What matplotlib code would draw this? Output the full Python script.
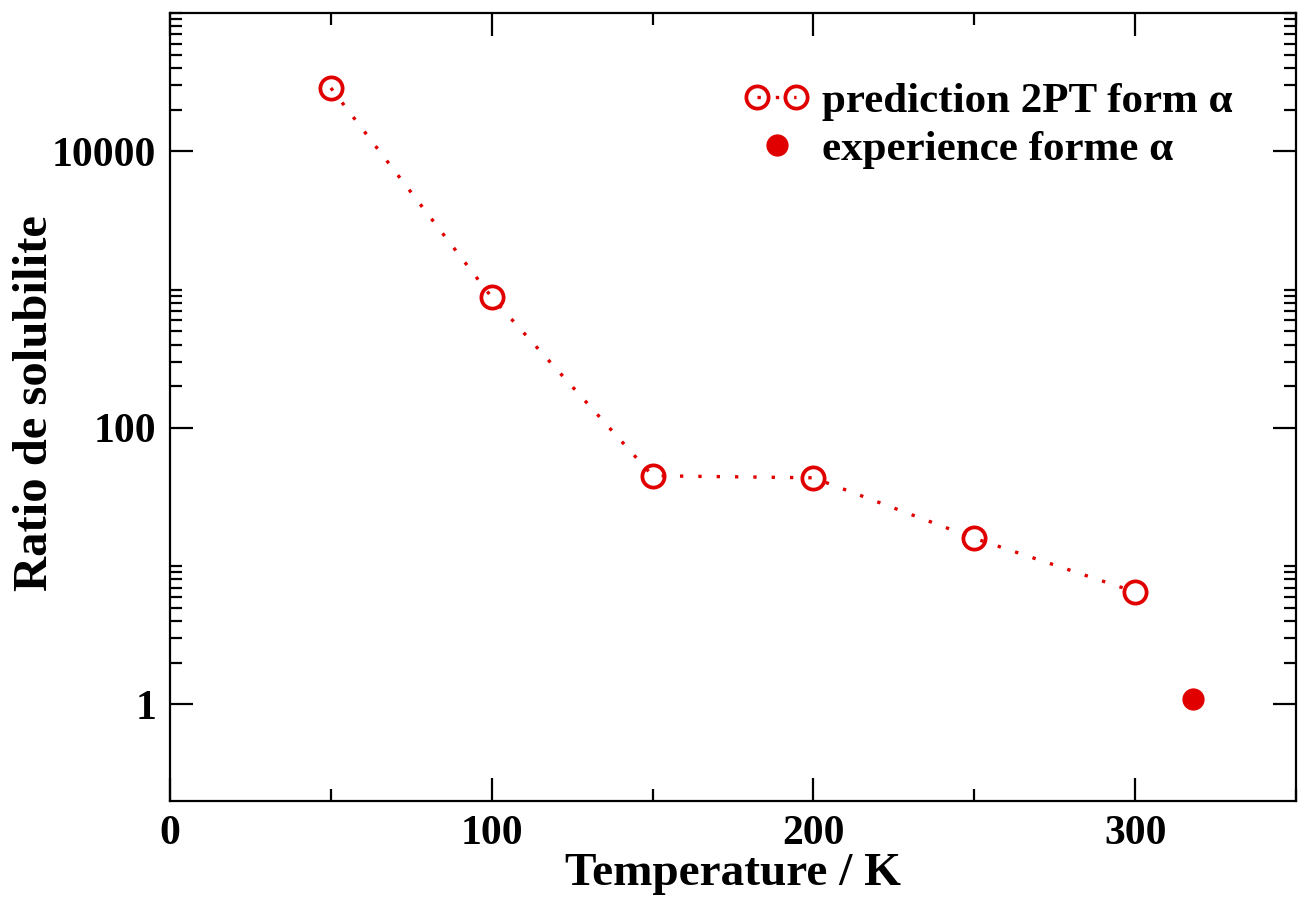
import matplotlib
matplotlib.use("Agg")
import matplotlib.pyplot as plt
from matplotlib.ticker import FixedLocator, FixedFormatter
from matplotlib.legend_handler import HandlerLine2D

# Data
temp_pred = [50, 100, 150, 200, 250, 300]
ratio_pred = [28700, 880, 45, 43.5, 15.9, 6.5]
temp_exp = [318]
ratio_exp = [1.1]

label_pred = "prediction 2PT form α"
label_exp = "experience forme α"
xlabel = "Temperature / K"
ylabel = "Ratio de solubilite"
x_major = [0, 100, 200, 300]
x_minor = [50, 150, 250, 350]
y_major = [1, 100, 10000]
y_major_labels = ["1", "100", "10000"]

plt.rcParams['font.family'] = ['Liberation Serif', 'DejaVu Serif']
plt.rcParams['font.weight'] = 'bold'

fig = plt.figure(figsize=(12.99, 8.99), dpi=100)
ax = fig.add_axes([170/1299, 98/899, (1296-170)/1299, (801-13)/899])

red = '#e00000'
l1, = ax.plot(temp_pred, ratio_pred, linestyle=(0, (1, 4.5)), color=red, linewidth=2.4,
              marker='o', markersize=16, markerfacecolor='none', markeredgecolor=red,
              markeredgewidth=2.7, label=label_pred)
l2, = ax.plot(temp_exp, ratio_exp, linestyle='none', marker='o', markersize=15,
              color=red, markeredgecolor=red, label=label_exp)

ax.set_yscale('log')
ax.set_xlim(0, 350)
ax.set_ylim(0.2, 1e5)

ax.xaxis.set_major_locator(FixedLocator(x_major))
ax.xaxis.set_minor_locator(FixedLocator(x_minor))
ax.yaxis.set_major_locator(FixedLocator(y_major))
ax.yaxis.set_major_formatter(FixedFormatter(y_major_labels))
y_minor = [k * m for m in y_major for k in range(2, 11)]
ax.yaxis.set_minor_locator(FixedLocator(y_minor))
ax.yaxis.set_minor_formatter(FixedFormatter([""] * len(y_minor)))

ax.tick_params(which='both', direction='in', top=True, right=True, width=1.6)
ax.tick_params(which='major', length=16.5, labelsize=30, pad=10)
ax.tick_params(which='minor', length=8.5)
for lab in ax.get_xticklabels() + ax.get_yticklabels():
    lab.set_fontweight('bold')
for s in ax.spines.values():
    s.set_linewidth(1.6)

ax.set_xlabel(xlabel, fontsize=34, fontweight='bold')
ax.xaxis.label.set_va('baseline')
ax.xaxis.set_label_coords(0.5, -0.106)
ax.set_ylabel(ylabel, fontsize=35, fontweight='bold')
ax.yaxis.label.set_va('center')
ax.yaxis.set_label_coords(-0.12, 0.505)

leg = ax.legend(handles=[l1, l2], loc='upper right', bbox_to_anchor=(0.978, 0.962),
                frameon=False, handlelength=1.5, handletextpad=0.3,
                labelspacing=0.2, prop={'weight': 'bold', 'size': 31},
                handler_map={l1: HandlerLine2D(numpoints=2), l2: HandlerLine2D(numpoints=1)})

fig.savefig('out.png', dpi=100)
